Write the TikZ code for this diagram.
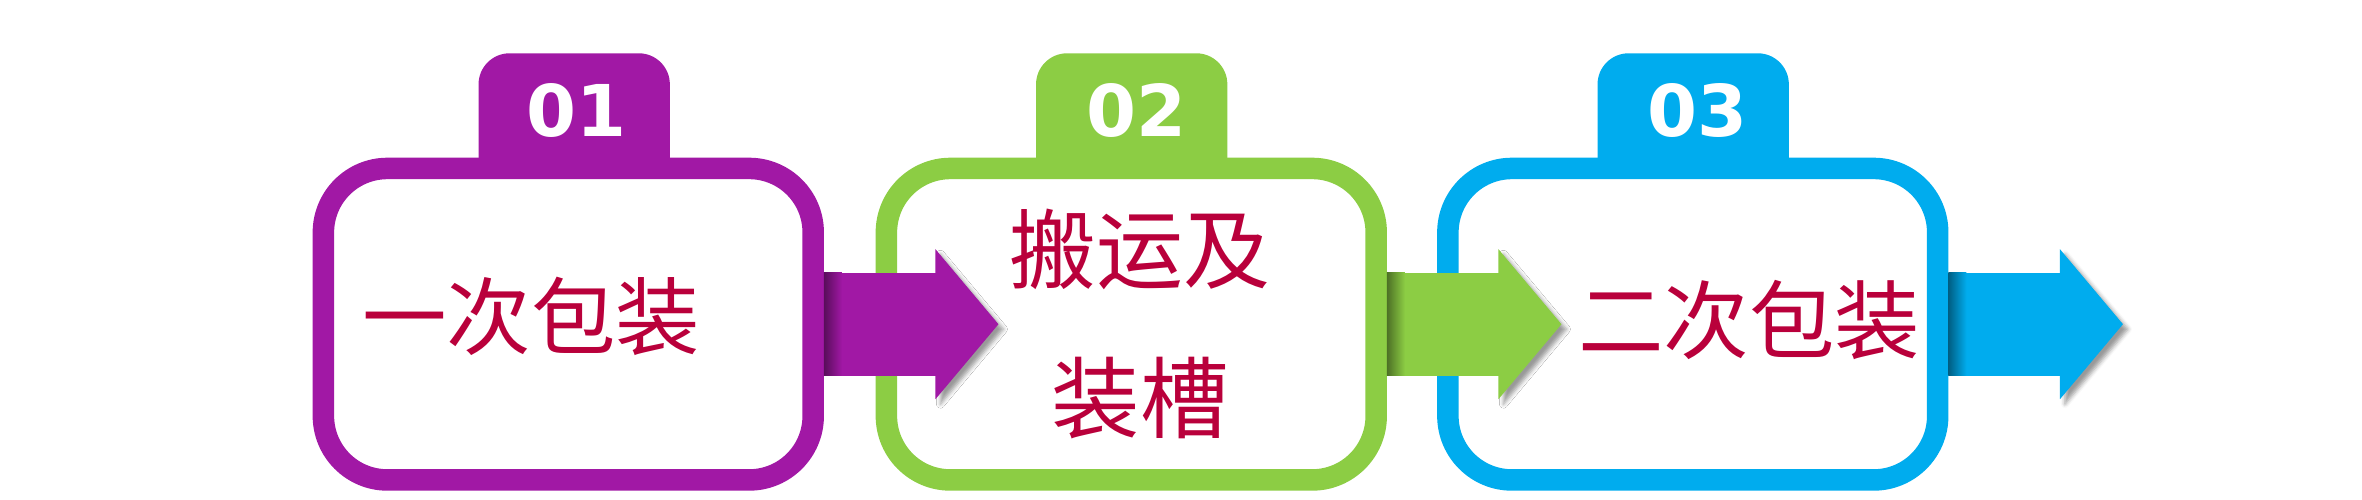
\documentclass[tikz,border=0pt]{standalone}
\usepackage{graphicx}
\usepackage{fontspec}
\newfontfamily\cjk{Noto Sans CJK SC}
\newfontfamily\digitfont{DejaVu Sans}
\usetikzlibrary{calc,shadows.blur}
\definecolor{cpurple}{HTML}{A118A5}
\definecolor{cgreen}{HTML}{8CCD44}
\definecolor{cblue}{HTML}{00ACEE}
\definecolor{crimson}{HTML}{B9003B}
\newcommand\cjkw[2]{\resizebox{#1}{!}{\cjk\fontsize{85}{100}\selectfont #2}}
\newcommand\numh[1]{\resizebox{100pt}{53pt}{\digitfont\bfseries\fontsize{72}{72}\selectfont #1}}
\begin{document}
\begin{tikzpicture}[x=1pt,y=-1pt,
  stage/.style={rectangle, rounded corners=64pt, line width=21.5pt, fill=white,
    minimum width=489.8pt, minimum height=311.5pt, inner sep=0pt},
  tabbox/.style={rectangle, rounded corners=31pt, minimum width=191.3pt,
    minimum height=150pt, inner sep=0pt},
  num/.style={text=white, anchor=base, inner sep=0pt},
  lbl/.style={text=crimson, anchor=base, inner sep=0pt},
  headshadow/.style={blur shadow={shadow xshift=5pt, shadow yshift=-5pt,
    shadow blur radius=4pt, shadow opacity=40}},
]
\useasboundingbox (0,0) rectangle (2362,500);
% tabs
\node[tabbox, fill=cpurple] (t1) at (574.2,128.3) {};
\node[tabbox, fill=cgreen]  (t2) at (1131.7,128.3) {};
\node[tabbox, fill=cblue]   (t3) at (1693.2,128.3) {};
% boxes
\node[stage, draw=cpurple] (b1) at (568.3,324.2) {};
\node[stage, draw=cgreen]  (b2) at (1131.3,324.2) {};
\node[stage, draw=cblue]   (b3) at (1692.8,324.2) {};
% numbers
\node[num] (n1) at (576,136) {\numh{01}};
\node[num] (n2) at (1136,136) {\numh{02}};
\node[num] (n3) at (1697,136) {\numh{03}};
% arrows
\foreach \b/\c in {b1/cpurple, b2/cgreen, b3/cblue}{
  \coordinate (\b s) at ($(\b.east)+(0,-51.7)$);
  \coordinate (\b h) at ($(\b.east)+(111.5,0)$);
  \fill[\c, headshadow] ($(\b h)+(0,-75)$) -- ($(\b h)+(63,0)$) -- ($(\b h)+(0,75)$) -- cycle;
  \fill[\c] (\b s) rectangle ($(\b h)+(1,51.7)$);
  \shade[left color=\c!55!black, right color=\c] (\b s) rectangle ($(\b.east)+(18,51.7)$);
}
% labels
\node[lbl] (l1) at (531,348) {\cjkw{338pt}{一次包装}};
\node[lbl] (l2a) at (1140,282) {\cjkw{261pt}{搬运及}};
\node[lbl] (l2b) at (1140,431) {\cjkw{177pt}{装槽}};
\node[lbl] (l3) at (1749,352.5) {\cjkw{342pt}{二次包装}};
\end{tikzpicture}
\end{document}
